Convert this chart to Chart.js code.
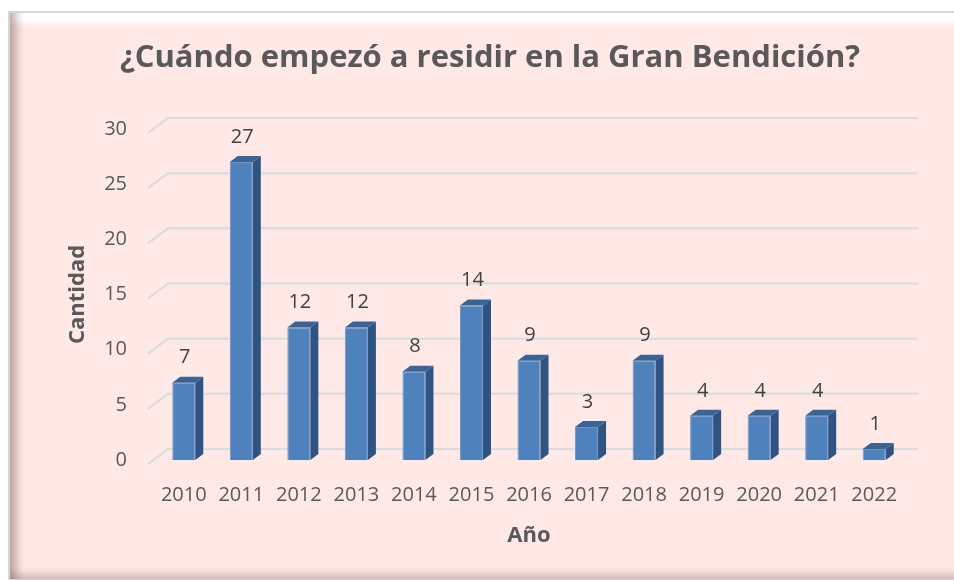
<!DOCTYPE html>
<html>
<head>
<meta charset="utf-8">
<script src="https://cdn.jsdelivr.net/npm/chart.js@4.4.1/dist/chart.umd.min.js"></script>
<style>
  html, body { margin: 0; padding: 0; background: #fff; overflow: hidden; }
  #wrap { position: relative; width: 954px; height: 580px; overflow: hidden; }
  #frame {
    position: absolute; left: 8px; top: 11px; width: 990px; height: 566px;
    border: 2px solid #d6d6d6;
    background: #fee9e7;
    box-shadow:
      inset 14px 0 10px -8px rgba(110, 70, 70, 0.45),
      inset 0 16px 4px -6px #ffffff,
      inset 0 -10px 8px -6px rgba(110, 70, 70, 0.35);
  }
  canvas { position: absolute; left: 0; top: 0; }
</style>
</head>
<body>
<div id="wrap">
  <div id="frame"></div>
  <canvas id="grafico" width="954" height="580"></canvas>
</div>
<script>
const anios = ['2010', '2011', '2012', '2013', '2014', '2015', '2016', '2017', '2018', '2019', '2020', '2021', '2022'];
const cantidades = [7, 27, 12, 12, 8, 14, 9, 3, 9, 4, 4, 4, 1];
const ticksY = [0, 5, 10, 15, 20, 25, 30];
const titulo = '¿Cuándo empezó a residir en la Gran Bendición?';

const textoGris = '#595959';
const fuente = "'Open Sans', 'Noto Sans', sans-serif";

// 3D look: back grid lines, side/top faces of the columns, value labels and title
const efecto3D = {
  id: 'efecto3D',
  beforeDatasetsDraw(chart) {
    const { ctx, scales } = chart;
    const y = scales.y;
    const x0 = scales.x.left;
    const x1 = scales.x.right + 15;
    ctx.save();
    ctx.strokeStyle = '#d7dcdd';
    ctx.lineWidth = 2;
    ticksY.forEach(v => {
      const py = y.getPixelForValue(v);
      ctx.beginPath();
      ctx.moveTo(x0 - 7, py + 4);
      ctx.lineTo(x0 + 13, py - 11);
      ctx.lineTo(x1, py - 11);
      ctx.stroke();
    });
    ctx.restore();
  },
  afterDatasetsDraw(chart) {
    const { ctx } = chart;
    const meta = chart.getDatasetMeta(0);
    const dx = 8, dy = -6;
    ctx.save();
    meta.data.forEach((bar, i) => {
      const { x, y, base, width } = bar.getProps(['x', 'y', 'base', 'width'], true);
      const l = x - width / 2, r = x + width / 2;
      // side face
      ctx.fillStyle = '#2f5383';
      ctx.beginPath();
      ctx.moveTo(r, base);
      ctx.lineTo(r + dx, base + dy);
      ctx.lineTo(r + dx, y + dy);
      ctx.lineTo(r, y);
      ctx.closePath();
      ctx.fill();
      // top face
      ctx.fillStyle = '#3a6494';
      ctx.beginPath();
      ctx.moveTo(l, y);
      ctx.lineTo(l + dx, y + dy);
      ctx.lineTo(r + dx, y + dy);
      ctx.lineTo(r, y);
      ctx.closePath();
      ctx.fill();
      // value label
      ctx.fillStyle = '#404040';
      ctx.font = '20px ' + fuente;
      ctx.textAlign = 'center';
      ctx.textBaseline = 'middle';
      ctx.fillText(String(cantidades[i]), x + 1, y - 25);
    });
    // chart title
    ctx.fillStyle = textoGris;
    ctx.font = 'bold 31px ' + fuente;
    ctx.textAlign = 'center';
    ctx.textBaseline = 'middle';
    ctx.fillText(titulo, 490, 58);
    ctx.restore();
  }
};

new Chart(document.getElementById('grafico'), {
  type: 'bar',
  data: {
    labels: anios,
    datasets: [{
      data: cantidades,
      backgroundColor: '#4f81bd',
      borderColor: '#6f97c8',
      borderWidth: 1,
      barPercentage: 0.4,
      categoryPercentage: 1.0
    }]
  },
  options: {
    responsive: false,
    animation: false,
    devicePixelRatio: 1,
    layout: { padding: { left: 0, right: 51, top: 129, bottom: 0 } },
    plugins: {
      legend: { display: false },
      tooltip: { enabled: false },
      title: { display: false }
    },
    scales: {
      x: {
        grid: { display: false, drawTicks: false },
        border: { display: false },
        ticks: { color: textoGris, font: { family: fuente, size: 20 }, padding: 23, maxRotation: 0 },
        title: {
          display: true, text: 'Año', color: textoGris,
          font: { family: fuente, size: 22, weight: 'bold' },
          padding: { top: 0, bottom: 31 }
        },
        afterFit(scale) { scale.height = 120; }
      },
      y: {
        min: 0, max: 30,
        grid: { display: false, drawTicks: false },
        border: { display: false },
        ticks: { stepSize: 5, color: textoGris, font: { family: fuente, size: 20 }, padding: 28 },
        title: {
          display: true, text: 'Cantidad', color: textoGris,
          font: { family: fuente, size: 22, weight: 'bold' },
          padding: { top: 65, bottom: 0 }
        },
        afterFit(scale) { scale.width = 155; }
      }
    }
  },
  plugins: [efecto3D]
});
</script>
</body>
</html>
